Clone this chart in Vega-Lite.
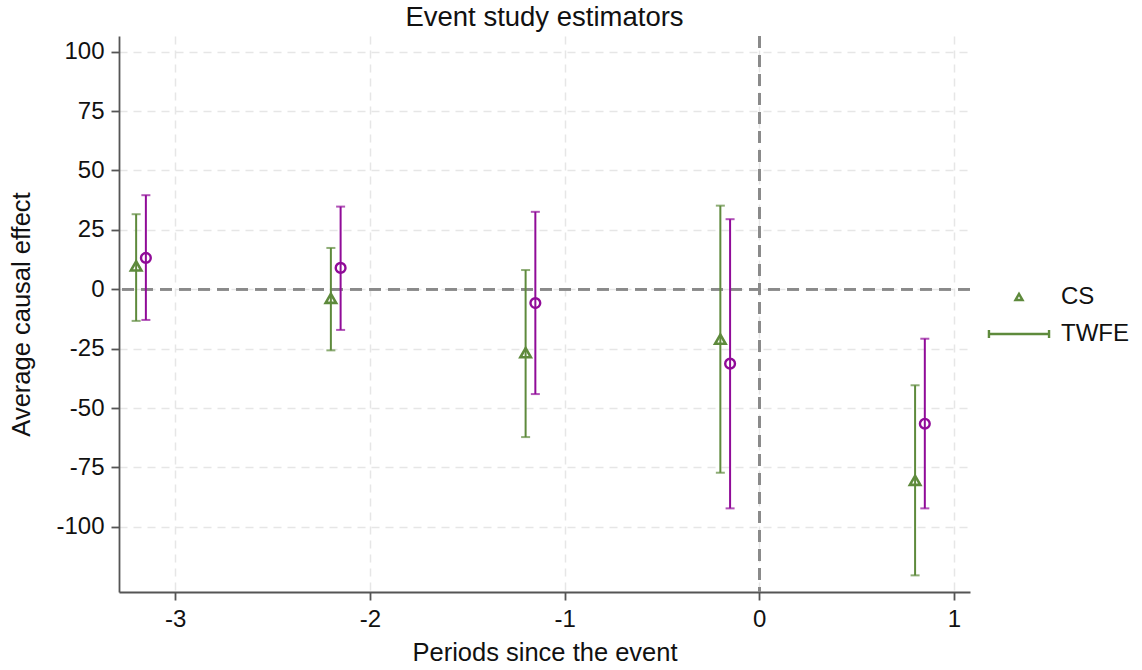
{
  "$schema": "https://vega.github.io/schema/vega-lite/v6.json",
  "autosize": "none",
  "width": 851,
  "height": 556,
  "padding": {"left": 119, "top": 36, "right": 172, "bottom": 78},
  "background": "white",
  "title": {"text": "Event study estimators", "fontSize": 27.5, "font": "Liberation Sans", "fontWeight": "normal", "color": "#111111", "offset": 4, "anchor": "middle"},
  "config": {
    "view": {"stroke": null},
    "font": "Liberation Sans",
    "axis": {"labelFont": "Liberation Sans", "titleFont": "Liberation Sans", "labelFontSize": 24, "titleFontSize": 25.5, "labelColor": "#111111", "titleColor": "#111111", "titleFontWeight": "normal", "domainColor": "#555555", "domainWidth": 1.8, "tickColor": "#555555", "tickWidth": 1.8, "tickSize": 8, "gridColor": "#e6e6e6", "gridWidth": 1.5, "gridDash": [8, 6], "labelExpr": "replace(datum.label, '\u2212', '-')"}
  },
  "data": {"values": [
    {"x": -3.2, "est": 9.8, "lo": -13.3, "hi": 31.6, "estimator": "CS"},
    {"x": -2.2, "est": -3.8, "lo": -25.7, "hi": 17.4, "estimator": "CS"},
    {"x": -1.2, "est": -26.7, "lo": -62.2, "hi": 8.1, "estimator": "CS"},
    {"x": -0.2, "est": -21.0, "lo": -77.2, "hi": 35.2, "estimator": "CS"},
    {"x": 0.8, "est": -80.4, "lo": -120.4, "hi": -40.4, "estimator": "CS"},
    {"x": -3.15, "est": 13.2, "lo": -12.9, "hi": 39.6, "estimator": "TWFE"},
    {"x": -2.15, "est": 9.0, "lo": -17.1, "hi": 34.8, "estimator": "TWFE"},
    {"x": -1.15, "est": -5.8, "lo": -44.1, "hi": 32.6, "estimator": "TWFE"},
    {"x": -0.15, "est": -31.3, "lo": -92.2, "hi": 29.5, "estimator": "TWFE"},
    {"x": 0.85, "est": -56.6, "lo": -92.2, "hi": -20.8, "estimator": "TWFE"}
  ]},
  "encoding": {
    "x": {"field": "x", "type": "quantitative", "scale": {"domain": [-3.288, 1.082], "nice": false, "zero": false},
      "axis": {"values": [-3, -2, -1, 0, 1], "title": "Periods since the event", "labelPadding": 7, "titlePadding": 9}},
    "y": {"field": "est", "type": "quantitative", "scale": {"domain": [-127.4, 106.6], "nice": false, "zero": false},
      "axis": {"values": [100, 75, 50, 25, 0, -25, -50, -75, -100], "title": "Average causal effect", "labelPadding": 7, "titlePadding": 21}}
  },
  "layer": [
    {"mark": {"type": "rule", "color": "#8a8a8a", "strokeWidth": 2, "strokeDash": [12, 7]}, "encoding": {"x": null, "y": {"datum": 0, "type": "quantitative"}}},
    {"mark": {"type": "rule", "color": "#8a8a8a", "strokeWidth": 2, "strokeDash": [12, 7]}, "encoding": {"y": null, "x": {"datum": 0, "type": "quantitative"}}},
    {"mark": {"type": "rule", "strokeWidth": 2},
      "encoding": {"y": {"field": "lo", "type": "quantitative"}, "y2": {"field": "hi"},
        "color": {"condition": {"test": "datum.estimator === 'CS'", "value": "#5e8a3c"}, "value": "#900b98"}}},
    {"mark": {"type": "tick", "orient": "horizontal", "size": 9, "thickness": 2},
      "encoding": {"y": {"field": "lo", "type": "quantitative"}, "color": {"condition": {"test": "datum.estimator === 'CS'", "value": "#5e8a3c"}, "value": "#900b98"}}},
    {"mark": {"type": "tick", "orient": "horizontal", "size": 9, "thickness": 2},
      "encoding": {"y": {"field": "hi", "type": "quantitative"}, "color": {"condition": {"test": "datum.estimator === 'CS'", "value": "#5e8a3c"}, "value": "#900b98"}}},
    {"transform": [{"filter": "datum.estimator === 'TWFE'"}],
      "mark": {"type": "point", "shape": "circle", "filled": false, "size": 95, "strokeWidth": 2.4, "color": "#900b98", "opacity": 1}},
    {"transform": [{"filter": "datum.estimator === 'CS'"}],
      "mark": {"type": "point", "filled": false, "size": 110, "strokeWidth": 2.6, "color": "#5e8a3c", "opacity": 1},
      "encoding": {"shape": {"field": "estimator", "type": "nominal",
        "scale": {"domain": ["CS", "TWFE"], "range": ["triangle-up", "M-8.5,-1.1V1.1M-8.5,0H8.5M8.5,-1.1V1.1"]},
        "legend": {"title": null, "orient": "none", "legendX": 863, "legendY": 249, "symbolSize": 50, "symbolStrokeColor": "#5e8a3c", "symbolStrokeWidth": 2.4, "symbolFillColor": "transparent", "symbolOpacity": 1, "labelFontSize": 24, "labelFont": "Liberation Sans", "labelColor": "#111111", "labelOffset": 30, "rowPadding": 13, "symbolOffset": 25}}}}
  ]
}
